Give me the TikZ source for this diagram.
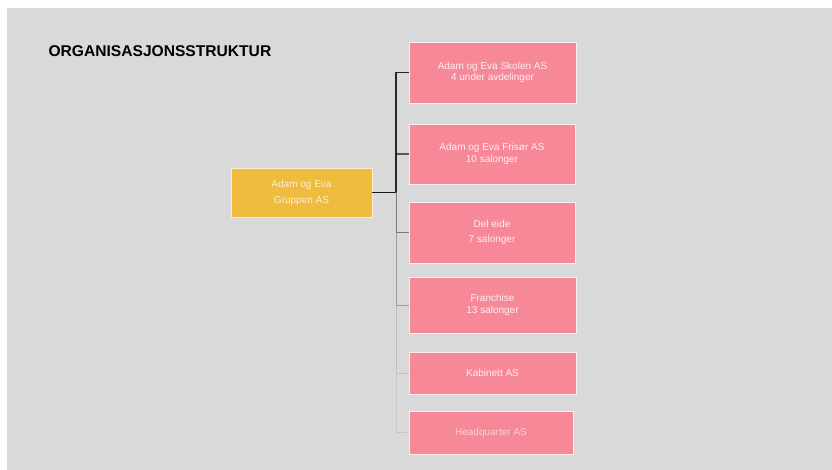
\documentclass[tikz,border=0pt]{standalone}
\usepackage{fontspec}
\setmainfont{Liberation Sans}
\usepackage{xcolor}
\usepackage{tikz}
\usetikzlibrary{calc}

\definecolor{bggray}{HTML}{D9D9D9}
\definecolor{boxpink}{HTML}{F78898}
\definecolor{boxgold}{HTML}{EFBC3E}
\definecolor{txtpink}{HTML}{FDEFF1}
\definecolor{txtgold}{HTML}{FBEFD0}

\tikzset{
	unit/.style={fill=boxpink,draw=white!85!boxpink,line width=0.8pt,text=txtpink,
		align=center,inner sep=0pt,font=\fontsize{10}{11.5}\selectfont},
	group/.style={unit,fill=boxgold,draw=white!75!boxgold,text=txtgold},
	link/.style={line width=#1}
}

\begin{document}
\begin{tikzpicture}[x=1pt,y=-1pt]
		\useasboundingbox (0,0) rectangle (832,470);
		\fill [white] (0,0) rectangle (832,470);
		\fill [bggray] (7,8) rectangle (832,470);
		\node [anchor=west,font=\fontsize{15.6}{17}\selectfont\bfseries] (title) at (45,51) {ORGANISASJONSSTRUKTUR};
		\node [group,minimum width=141pt,minimum height=49pt,font=\fontsize{10}{16}\selectfont] (gruppen) at (301.5,192.5) {Adam og Eva\\Gruppen AS};
		\node [unit,minimum width=167pt,minimum height=61pt] (skolen) at (492.5,72.5) {Adam og Eva Skolen AS\\4 under avdelinger};
		\node [unit,minimum width=166pt,minimum height=60pt] (frisor) at (492,154) {Adam og Eva Frisør AS\\10 salonger};
		\node [unit,minimum width=166pt,minimum height=61pt,font=\fontsize{10}{15}\selectfont] (deleide) at (492,232.5) {Del eide\\7 salonger};
		\node [unit,minimum width=167pt,minimum height=56pt] (franchise) at (492.5,305) {Franchise\\13 salonger};
		\node [unit,minimum width=167pt,minimum height=42pt] (kabinett) at (492.5,373) {Kabinett AS};
		\node [unit,minimum width=164pt,minimum height=43pt,text=white!60!boxpink] (hq) at (491,432.5) {Headquarter AS};
		\coordinate (hub) at (396,192.5);
		% branches, lightest first
		\draw [link=0.9pt,black!22] (hub) |- (hq.west);
		\draw [link=0.9pt,black!25] (hub) |- (kabinett.west);
		\draw [link=0.9pt,black!38] (hub) |- (franchise.west);
		\draw [link=1pt,black!52] (hub) |- (deleide.west);
		\draw [link=1.3pt,black!65] (hub) |- (frisor.west);
		\draw [link=1.3pt,black!85] (hub) |- (skolen.west);
		\draw [link=1.5pt,black!90] (gruppen.east) -- (hub);
	\end{tikzpicture}
\end{document}
